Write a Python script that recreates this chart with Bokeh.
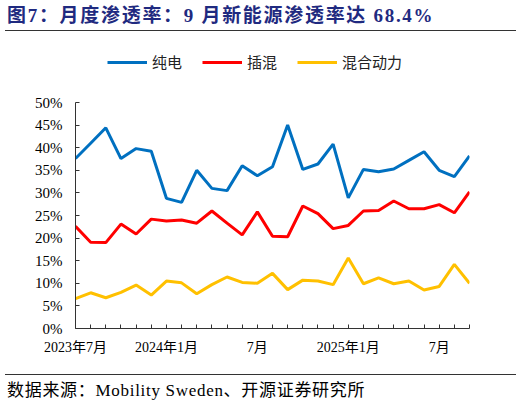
from bokeh.plotting import figure
from bokeh.layouts import column
from bokeh.models import (Range1d, FixedTicker, PrintfTickFormatter, Legend, LegendItem, Div)
from bokeh.embed import file_html
from bokeh.resources import INLINE

# 月份（2023年7月 - 2025年9月）
months = list(range(27))
tick_labels = {0: "2023年7月", 6: "2024年1月", 12: "7月", 18: "2025年1月", 24: "7月"}

# 渗透率 (%)
bev = [37.6, 41.0, 44.4, 37.6, 39.8, 39.2, 28.8, 27.9, 35.0, 31.0, 30.5, 36.0, 33.8,
       35.8, 45.0, 35.2, 36.4, 40.8, 28.9, 35.2, 34.7, 35.3, 37.2, 39.1, 35.0, 33.6, 38.2]
phev = [22.6, 19.1, 19.0, 23.1, 20.9, 24.2, 23.8, 24.0, 23.3, 26.0, 23.3, 20.7, 25.8,
        20.4, 20.3, 27.1, 25.4, 22.1, 22.8, 26.0, 26.1, 28.2, 26.5, 26.5, 27.4, 25.6, 30.2]
hev = [6.6, 7.9, 6.8, 8.0, 9.6, 7.4, 10.5, 10.1, 7.7, 9.7, 11.4, 10.2, 10.0,
       12.2, 8.6, 10.7, 10.5, 9.7, 15.6, 9.9, 11.2, 9.9, 10.5, 8.5, 9.3, 14.2, 10.0]

names = ["纯电", "插混", "混合动力"]
colors = ["#0070C0", "#FF0000", "#FFC000"]

title = "图7：月度渗透率：9 月新能源渗透率达 68.4%"
source_note = "数据来源：Mobility Sweden、开源证券研究所"

serif = "Liberation Serif, Noto Sans CJK SC"
css_font = "'Liberation Serif', 'Noto Sans CJK SC', serif"
W = 520

# 标题 (rule = border of the Div itself)
head = Div(text=f'<div style="padding:6px 0 0 2px;height:20px;line-height:20px;white-space:nowrap;'
                f'font-family:{css_font};font-weight:bold;font-size:19px;'
                f'letter-spacing:1.7px;color:#1f2a80">{title}</div>',
           width=511, height=31, margin=(0, 4, 0, 5),
           styles={"border-bottom": "1.4px solid #333333"})

# 图例 (frame lines up with the chart frame below)
lg = figure(width=W, height=56, output_backend="svg", toolbar_location=None,
            x_range=Range1d(0, 1), y_range=Range1d(0, 1), min_border=0,
            x_axis_type=None, y_axis_type=None)
lg.grid.visible = False
lg.outline_line_color = None
keys = [lg.line(x=[-5, -4], y=[-5, -5], line_color=c, line_width=3) for c in colors]
legend = Legend(items=[LegendItem(label=n, renderers=[r]) for n, r in zip(names, keys)],
                orientation="horizontal", location=(32, 15),
                glyph_width=40, glyph_height=16, label_height=16, label_standoff=5,
                spacing=20, padding=0, margin=0,
                label_text_font="Noto Sans CJK SC", label_text_font_size="15px",
                label_text_color="#222222",
                border_line_alpha=0, background_fill_alpha=0)
lg.add_layout(legend, "center")

# 主图
p = figure(width=W, height=274, output_backend="svg", toolbar_location=None,
           x_range=Range1d(0, 26), y_range=Range1d(0, 50),
           min_border_left=75, min_border_right=51, min_border_top=15, min_border_bottom=33)
p.outline_line_color = None
p.grid.visible = False

for ys, c in zip([bev, phev, hev], colors):
    p.line(months, ys, line_color=c, line_width=3)

xa = p.xaxis[0]
xa.ticker = FixedTicker(ticks=months)
xa.major_label_overrides = {m: tick_labels.get(m, "") for m in months}
xa.minor_tick_line_color = None
xa.major_tick_in = 4
xa.major_tick_out = 0
xa.axis_line_color = "#333333"
xa.major_tick_line_color = "#333333"
xa.major_label_text_font = serif
xa.major_label_text_font_size = "14px"
xa.major_label_text_color = "#000000"
xa.major_label_standoff = 11

ya = p.yaxis[0]
ya.ticker = FixedTicker(ticks=list(range(0, 51, 5)))
ya.formatter = PrintfTickFormatter(format="%d%%")
ya.minor_tick_line_color = None
ya.major_tick_in = 4
ya.major_tick_out = 0
ya.axis_line_color = "#333333"
ya.major_tick_line_color = "#333333"
ya.major_label_text_font = serif
ya.major_label_text_font_size = "15px"
ya.major_label_text_color = "#000000"
ya.major_label_standoff = 13

# 数据来源 (rule = top border of the Div)
foot = Div(text=f'<div style="padding:5px 0 0 2px;height:22px;line-height:22px;white-space:nowrap;'
                f'font-family:{css_font};font-size:17px;letter-spacing:0.7px;color:#000">'
                f'{source_note}</div>',
           width=511, height=28, margin=(13, 4, 0, 5),
           styles={"border-top": "1.4px solid #333333"})

lay = column(head, lg, p, foot, spacing=0)
open("out.html", "w").write(file_html(lay, INLINE))
